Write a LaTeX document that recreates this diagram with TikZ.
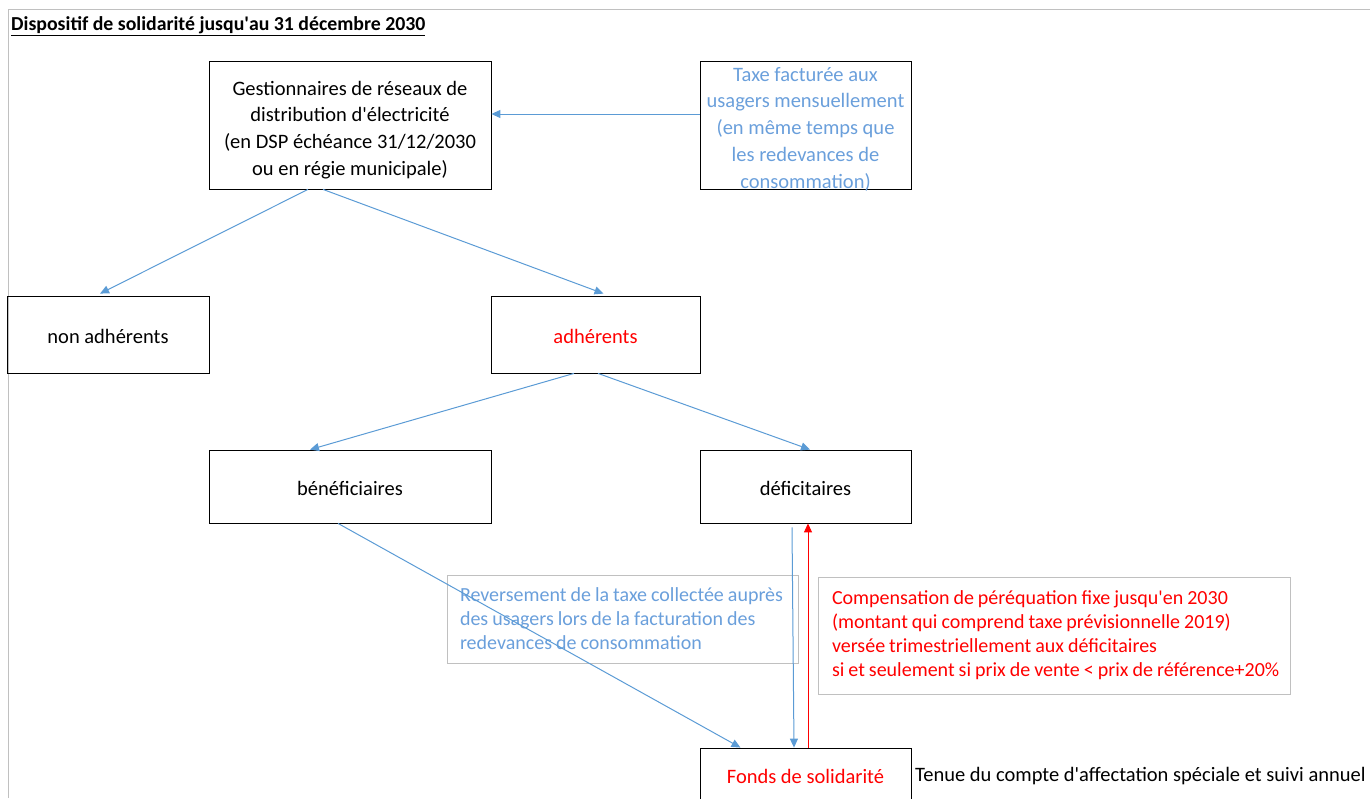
\documentclass[tikz,border=0pt]{standalone}
\usepackage{fontspec}
\setmainfont{Carlito}
\usepackage{tikz}
\usetikzlibrary{arrows.meta}
\definecolor{lineblue}{HTML}{5B9BD5}
\definecolor{textblue}{HTML}{6A9FDB}
\definecolor{framegray}{HTML}{C0C0C0}
\newcommand{\apos}{\textquotesingle}
\newcommand{\lowered}[2]{\raisebox{-#1}[\height][\depth]{#2}}
\protected\def\tightspaces{\spaceskip=4pt plus 1pt\relax}
\tikzset{
  box/.style={draw, thick, inner sep=0pt, align=center},
  note/.style={draw=framegray, thick, inner ysep=0pt, align=left, font=\fontsize{20}{24}\selectfont},
  bluearrow/.style={draw=lineblue, line width=1pt, -{Triangle[width=8pt,length=9pt]}},
  redarrow/.style={draw=red, line width=1pt, -{Triangle[width=8pt,length=9pt]}}
}

\begin{document}
\begin{tikzpicture}[x=1pt, y=-1pt, every node/.style={font=\fontsize{20.5}{26.8}\selectfont}]
\useasboundingbox (0,0) rectangle (1370,798);
\clip (0,0) rectangle (1370,798);
\draw[framegray] (8,798) -- (8,9) -- (1370,9);

\node[anchor=base west, inner sep=0pt, font=\fontsize{19.8}{24}\selectfont] (titre) at (11,30) {\textbf{\underline{Dispositif de solidarité jusqu\apos au 31 décembre 2030}}};

\node[box, minimum width=282pt, minimum height=128pt] (gest) at (350,125) {\lowered{5pt}{\parbox{270pt}{\centering Gestionnaires de réseaux de\\distribution d\apos électricité\\(en DSP échéance 31/12/2030\\ou en régie municipale)}}};
\node[box, minimum width=211pt, minimum height=128pt, text=textblue] (taxe) at (805.5,125) {\lowered{4pt}{\parbox{200pt}{\centering Taxe facturée aux\\usagers mensuellement\\(en même temps que\\les redevances de\\consommation)}}};

\node[box, minimum width=202pt, minimum height=77pt] (nonadh) at (108,334.5) {\lowered{2pt}{non adhérents}};
\node[box, minimum width=209pt, minimum height=77pt, text=red] (adh) at (595.5,334.5) {\lowered{2pt}{adhérents}};

\node[box, minimum width=282pt, minimum height=73pt] (benef) at (350,486.5) {\lowered{2pt}{bénéficiaires}};
\node[box, minimum width=211pt, minimum height=73pt] (defic) at (805.5,486.5) {\lowered{2pt}{déficitaires}};

\node[note, inner xsep=13pt, minimum height=88pt, text width=325pt, text=textblue] (revers) at (622.5,619) {\tightspaces\mbox{Reversement de la taxe collectée auprès}\\\mbox{des usagers lors de la facturation des}\\\mbox{redevances de consommation}};
\node[note, inner xsep=14pt, minimum height=117pt, text width=444pt, text=red] (compens) at (1054,635.5) {\tightspaces\mbox{Compensation de péréquation fixe jusqu\apos en 2030}\\\mbox{(montant qui comprend taxe prévisionnelle 2019)}\\\mbox{versée trimestriellement aux déficitaires}\\\mbox{si et seulement si prix de vente < prix de référence+20\%}};

\node[box, minimum width=211pt, minimum height=56pt, text=red] (fonds) at (805.5,776) {Fonds de solidarité};
\node[anchor=west, inner sep=0pt] (tenue) at (915,776) {Tenue du compte d\apos affectation spéciale et suivi annuel};

\draw[bluearrow] ([yshift=11pt]taxe.west) -- ([yshift=11pt]gest.east);
\draw[bluearrow] ([xshift=-42pt]gest.south) -- ([xshift=-8pt,yshift=2pt]nonadh.north);
\draw[bluearrow] ([xshift=-27pt]gest.south) -- ([xshift=8pt,yshift=2pt]adh.north);
\draw[bluearrow] ([xshift=-21.5pt]adh.south) -- ([xshift=-40pt]benef.north);
\draw[bluearrow] ([xshift=2.5pt]adh.south) -- ([xshift=4.5pt]defic.north);
\draw[bluearrow] ([xshift=-12pt]benef.south) -- ([xshift=-65pt]fonds.north);
\draw[bluearrow] ([xshift=-13.5pt,yshift=-4pt]defic.south) -- ([xshift=-11.5pt]fonds.north);
\draw[redarrow] ([xshift=2.5pt]fonds.north) -- ([xshift=2.5pt]defic.south);
\end{tikzpicture}
\end{document}
